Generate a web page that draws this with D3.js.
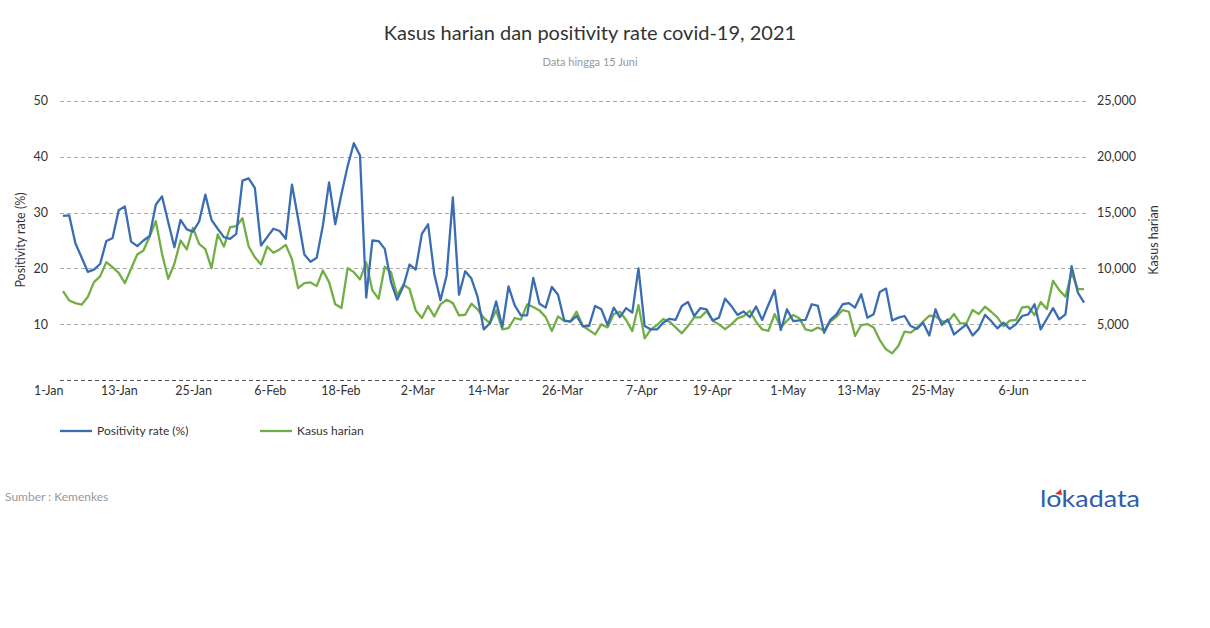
<!DOCTYPE html>
<html>
<head>
<meta charset="utf-8">
<style>
  body { margin: 0; background: #fff; }
  svg text { font-family: Lato, "Open Sans", sans-serif; }
</style>
</head>
<body>
<div id="chart"></div>
<script src="https://d3js.org/d3.v7.min.js"></script>
<script>
  // data, 1 Jan - 15 Jun 2021 (one value per day)
  const startDate = new Date(2021, 0, 1);
  const positivity = [
    29.4, 29.5, 24.5, 22.0, 19.4, 19.8, 20.8, 24.9, 25.4, 30.4, 31.1, 24.8, 24.0, 25.0, 25.8, 31.4, 32.9, 28.3, 23.8, 28.7,
    27.0, 26.6, 28.4, 33.2, 28.7, 27.1, 25.6, 25.3, 26.2,
    35.7, 36.1, 34.4, 24.1, 25.6, 27.1, 26.7, 25.3, 35.0, 28.9, 22.5, 21.2, 21.9, 27.7, 35.4, 27.9, 33.3, 38.3, 42.4, 40.2,
    14.8, 25.0, 24.9, 23.5, 17.6, 14.4, 16.8,
    20.7, 19.8, 26.2, 27.9, 19.0, 14.3, 18.8, 32.7, 15.3, 19.5, 18.2, 14.9, 9.1, 10.2, 14.1, 9.5, 16.8, 13.4, 11.6, 11.6,
    18.3, 13.7, 13.0, 16.7, 15.3, 10.7, 10.5,
    11.5, 9.7, 9.7, 13.3, 12.7, 9.9, 13.0, 11.3, 12.9, 12.1, 20.0, 9.7, 9.1, 9.1, 10.3, 11.0, 10.8, 13.3, 14.0, 11.5,
    12.9, 12.7, 10.7, 11.2, 14.6, 13.3, 11.7, 12.3,
    11.3, 13.2, 10.8, 13.5, 16.1, 9.0, 12.7, 10.6, 10.7, 10.8, 13.6, 13.3, 8.5, 10.8, 11.8, 13.6, 13.8, 13.0, 15.4, 11.2,
    11.8, 15.8, 16.4, 10.7, 11.2, 11.5, 9.7,
    9.2, 10.3, 8.0, 12.7, 9.9, 10.9, 8.2, 9.1, 10.0, 8.0, 9.2, 11.7, 10.6, 9.3, 10.3, 9.2, 10.0, 11.5, 11.8, 13.6,
    9.1, 11.0, 12.9, 10.9, 11.8, 20.4, 15.7, 13.9
  ];
  const kasus = [
    7970, 7140, 6900, 6760, 7440, 8780, 9290, 10570, 10120, 9610, 8690, 9970, 11250, 11610, 12860, 14230, 11310, 9080, 10420, 12500,
    11700, 13630, 12200, 11730, 10030, 13040, 11960, 13690, 13780,
    14490, 11960, 11010, 10360, 11960, 11400, 11700, 12110, 10830, 8240, 8690, 8750, 8420, 9820, 8780, 6790, 6460, 10030, 9670, 9020,
    10540, 8040, 7290, 10150, 9670, 7590, 8540,
    8180, 6250, 5570, 6640, 5710, 6790, 7200, 6900, 5800, 5860, 6850, 6340, 5570, 5120, 6250, 4550, 4670, 5570, 5420, 6790,
    6550, 6250, 5650, 4400, 5710, 5300, 5270,
    6130, 4850, 4490, 4110, 5000, 4730, 5920, 6130, 5390, 4400, 6730, 3750, 4550, 4940, 5480, 5240, 4730, 4200, 4850, 5630,
    5630, 6190, 5330, 5000, 4580, 5000, 5540, 5740,
    6220, 5240, 4550, 4430, 5920, 4730, 5330, 5830, 5540, 4550, 4430, 4730, 4430, 5240, 5680, 6280, 6130, 3960, 4940, 5030,
    4730, 3600, 2770, 2410, 3070, 4350, 4260,
    4700, 5240, 5770, 5740, 5300, 5240, 5920, 5090, 5090, 6280, 5920, 6580, 6130, 5630, 4850, 5330, 5390, 6510, 6580, 5830,
    6990, 6370, 8900, 8060, 7470, 9640, 8150, 8150
  ];
  const xTickLabels = ['1-Jan', '13-Jan', '25-Jan', '6-Feb', '18-Feb', '2-Mar', '14-Mar', '26-Mar',
                       '7-Apr', '19-Apr', '1-May', '13-May', '25-May', '6-Jun'];
  const leftTicks = [10, 20, 30, 40, 50];
  const rightTicks = [5000, 10000, 15000, 20000, 25000];
  const seriesNames = ['Positivity rate (%)', 'Kasus harian'];
  const colors = ['#3a6db1', '#72ae46'];

  const W = 1210, H = 628;
  const plotLeft = 63, plotRight = 1084, plotTop = 100.7, plotBottom = 380.3;

  const dates = positivity.map((v, i) => d3.timeDay.offset(startDate, i));

  const svg = d3.select('#chart').append('svg')
                .attr('width', W)
                .attr('height', H);

  const x = d3.scaleTime()
              .domain([dates[0], dates[dates.length - 1]])
              .range([plotLeft, plotRight]);
  const yL = d3.scaleLinear().domain([0, 50]).range([plotBottom, plotTop]);
  const yR = d3.scaleLinear().domain([0, 25000]).range([plotBottom, plotTop]);

  // title
  svg.append('text')
     .attr('x', 590).attr('y', 40)
     .attr('text-anchor', 'middle')
     .attr('font-size', 20)
     .attr('fill', '#333')
     .text('Kasus harian dan positivity rate covid-19, 2021');
  svg.append('text')
     .attr('x', 590).attr('y', 66)
     .attr('text-anchor', 'middle')
     .attr('font-size', 11)
     .attr('fill', '#999')
     .text('Data hingga 15 Juni');

  // gridlines
  const grid = svg.append('g');
  grid.selectAll('line')
      .data([0].concat(leftTicks))
      .enter()
      .append('line')
      .attr('x1', 60).attr('x2', 1089)
      .attr('y1', d => Math.round(yL(d)) + 0.5)
      .attr('y2', d => Math.round(yL(d)) + 0.5)
      .attr('stroke', d => d === 0 ? '#555' : '#aaa')
      .attr('stroke-dasharray', '4,3')
      .attr('stroke-width', 1);

  // left axis
  const axL = svg.append('g')
                 .attr('transform', 'translate(48,0)')
                 .call(d3.axisLeft(yL).tickValues(leftTicks).tickSize(0).tickPadding(0));
  axL.select('.domain').remove();
  axL.selectAll('text').attr('font-size', 12.5).attr('fill', '#333').attr('font-family', 'Lato');

  // right axis
  const axR = svg.append('g')
                 .attr('transform', 'translate(1097,0)')
                 .call(d3.axisRight(yR).tickValues(rightTicks).tickSize(0).tickPadding(0)
                         .tickFormat(d3.format(',')));
  axR.select('.domain').remove();
  axR.selectAll('text').attr('font-size', 12.5).attr('fill', '#333').attr('font-family', 'Lato');

  // x axis
  const tickDates = xTickLabels.map((t, i) => d3.timeDay.offset(startDate, i * 12));
  const axX = svg.append('g')
                 .attr('transform', `translate(0,${plotBottom})`)
                 .call(d3.axisBottom(x).tickValues(tickDates).tickSize(0).tickPadding(0)
                         .tickFormat((d, i) => xTickLabels[i]));
  axX.select('.domain').remove();
  axX.selectAll('text')
     .attr('font-size', 12.5).attr('fill', '#333').attr('font-family', 'Lato')
     .attr('text-anchor', 'end')
     .attr('dy', null)
     .attr('y', 15);

  // axis titles
  svg.append('text')
     .attr('transform', 'translate(25,240) rotate(-90)')
     .attr('text-anchor', 'middle')
     .attr('font-size', 12.5)
     .attr('fill', '#333')
     .text('Positivity rate (%)');
  svg.append('text')
     .attr('transform', 'translate(1158,240) rotate(-90)')
     .attr('text-anchor', 'middle')
     .attr('font-size', 12.5)
     .attr('fill', '#333')
     .text('Kasus harian');

  // lines
  const lineL = d3.line().x((d, i) => x(dates[i])).y(d => yL(d));
  const lineR = d3.line().x((d, i) => x(dates[i])).y(d => yR(d));

  svg.append('path')
     .datum(kasus)
     .attr('d', lineR)
     .attr('fill', 'none')
     .attr('stroke', colors[1])
     .attr('stroke-width', 2.3)
     .attr('stroke-linejoin', 'round');
  svg.append('path')
     .datum(positivity)
     .attr('d', lineL)
     .attr('fill', 'none')
     .attr('stroke', colors[0])
     .attr('stroke-width', 2.3)
     .attr('stroke-linejoin', 'round');

  // legend
  const legend = svg.append('g')
                    .selectAll('g')
                    .data(seriesNames)
                    .enter()
                    .append('g')
                    .attr('transform', (d, i) => `translate(${60 + i * 200},431)`);
  legend.append('line')
        .attr('x1', 0).attr('x2', 32)
        .attr('y1', 0).attr('y2', 0)
        .attr('stroke', (d, i) => colors[i])
        .attr('stroke-width', 2.3);
  legend.append('text')
        .attr('x', 37).attr('y', 4)
        .attr('font-size', 12)
        .attr('fill', '#333')
        .text(d => d);

  // source
  svg.append('text')
     .attr('x', 5).attr('y', 501)
     .attr('font-size', 12)
     .attr('fill', '#999')
     .text('Sumber : Kemenkes');

  // logo
  svg.append('text')
     .attr('x', 1040).attr('y', 507)
     .attr('font-size', 24)
     .attr('font-family', '"Open Sans", sans-serif')
     .attr('textLength', 100)
     .attr('lengthAdjust', 'spacingAndGlyphs')
     .attr('fill', '#2f5ea8')
     .text('lokadata');
  svg.append('path')
     .attr('d', 'M1055,494 L1061,489 L1062,495 Z')
     .attr('fill', '#e0312d');
</script>
</body>
</html>
